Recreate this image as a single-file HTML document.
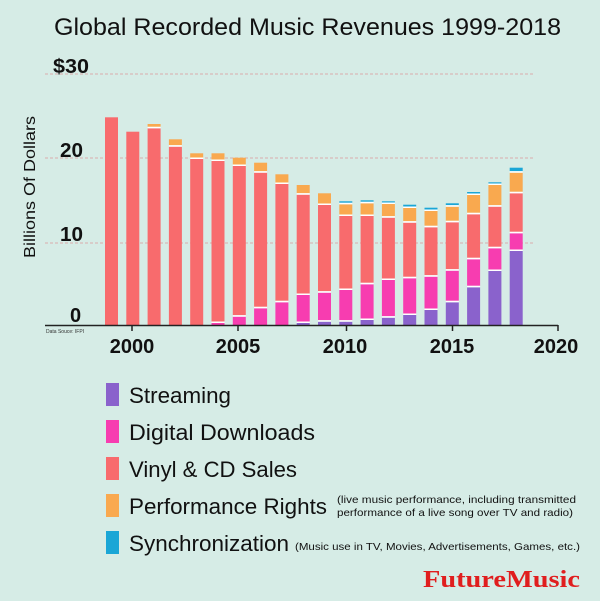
<!DOCTYPE html>
<html><head><meta charset="utf-8"><style>
html,body{margin:0;padding:0;background:#d6ece6;}
svg{display:block;font-family:"Liberation Sans",sans-serif;}
</style></head><body>
<svg width="600" height="601" viewBox="0 0 600 601" xmlns="http://www.w3.org/2000/svg">
<rect width="600" height="601" fill="#d6ece6"/>
<text x="54" y="35" font-size="24" fill="#111" textLength="507" lengthAdjust="spacingAndGlyphs">Global Recorded Music Revenues 1999-2018</text>
<g stroke="#d9b8b8" stroke-width="1.2" stroke-dasharray="3,2">
<line x1="45" y1="74" x2="535" y2="74"/>
<line x1="45" y1="158" x2="535" y2="158"/>
<line x1="45" y1="243" x2="535" y2="243"/>
</g>
<g font-weight="bold" font-size="20" fill="#111">
<text x="53" y="73" textLength="36" lengthAdjust="spacingAndGlyphs">$30</text>
<text x="60" y="157" textLength="23" lengthAdjust="spacingAndGlyphs">20</text>
<text x="60" y="241" textLength="23" lengthAdjust="spacingAndGlyphs">10</text>
<text x="70" y="322">0</text>
</g>
<text transform="translate(35,258) rotate(-90)" font-size="16" fill="#111" textLength="142" lengthAdjust="spacingAndGlyphs">Billions Of Dollars</text>
<g id="bars"></g>
<line x1="45" y1="325.5" x2="558" y2="325.5" stroke="#222" stroke-width="1.5"/>
<g stroke="#222" stroke-width="1.5">
<line x1="132" y1="325" x2="132" y2="331"/><line x1="238" y1="325" x2="238" y2="331"/>
<line x1="346.5" y1="325" x2="346.5" y2="331"/><line x1="452.5" y1="325" x2="452.5" y2="331"/>
<line x1="558" y1="325" x2="558" y2="331"/>
</g>
<text x="46" y="333" font-size="5" fill="#333">Data Souce: IFPI</text>
<g font-weight="bold" font-size="20" fill="#111" text-anchor="middle">
<text x="132" y="353">2000</text><text x="238" y="353">2005</text><text x="345" y="353">2010</text>
<text x="452" y="353">2015</text><text x="556" y="353">2020</text>
</g>
<g>
<rect x="106" y="383" width="13" height="23" fill="#8a62cc"/>
<rect x="106" y="420" width="13" height="23" fill="#f73db0"/>
<rect x="106" y="457" width="13" height="23" fill="#f86b6d"/>
<rect x="106" y="494" width="13" height="23" fill="#f9a94f"/>
<rect x="106" y="531" width="13" height="23" fill="#1aa6d6"/>
</g>
<g font-size="22" fill="#111">
<text x="129" y="403" textLength="102" lengthAdjust="spacingAndGlyphs">Streaming</text>
<text x="129" y="440" textLength="186" lengthAdjust="spacingAndGlyphs">Digital Downloads</text>
<text x="129" y="477" textLength="168" lengthAdjust="spacingAndGlyphs">Vinyl &amp; CD Sales</text>
<text x="129" y="514" textLength="198" lengthAdjust="spacingAndGlyphs">Performance Rights</text>
<text x="129" y="551" textLength="160" lengthAdjust="spacingAndGlyphs">Synchronization</text>
</g>
<g font-size="10.5" fill="#111">
<text x="337" y="503" textLength="239" lengthAdjust="spacingAndGlyphs">(live music performance, including transmitted</text>
<text x="337" y="516" textLength="236" lengthAdjust="spacingAndGlyphs">performance of a live song over TV and radio)</text>
<text x="295" y="550" textLength="285" lengthAdjust="spacingAndGlyphs">(Music use in TV, Movies, Advertisements, Games, etc.)</text>
</g>
<text x="423" y="587" font-family="Liberation Serif,serif" font-weight="bold" font-size="24" fill="#e01e1e" textLength="157" lengthAdjust="spacingAndGlyphs">FutureMusic</text>
<script>
var d=[
[326,326,117.3,117.3,117.3],[326,326,131.7,131.7,131.7],[326,326,128.3,124,124],
[326,326,146.7,139.3,139.3],[326,326,159,153.3,153.3],[326,323,161,153.3,153.3],
[326,316.7,166,157.7,157.7],[326,308.3,172.7,162.7,162.7],[326,302.3,184,174.3,174.3],
[323,295,194.7,185,185],[321.7,292.7,205,193.3,193.3],[321.7,290,216,204.3,201.3],
[320,284.3,216,203.3,200.3],[317.7,280,217.7,204,201.3],[315,278.3,222.7,208,204.7],
[310,276.7,227.3,211,207.7],[302.3,270.7,222.3,206.7,203.3],[287.3,259.3,214.3,195,192],
[271,248.3,206.7,185,182.3],[251,233.3,193.3,172.7,167.7]];
var cols=["#8a62cc","#f73db0","#f86b6d","#f9a94f","#1aa6d6"];
var g=document.getElementById("bars"),ns="http://www.w3.org/2000/svg";
function R(x,y,w,h,f){var rc=document.createElementNS(ns,"rect");rc.setAttribute("x",x.toFixed(1));rc.setAttribute("y",y.toFixed(1));rc.setAttribute("width",w);rc.setAttribute("height",h.toFixed(1));rc.setAttribute("fill",f);g.appendChild(rc);}
d.forEach(function(r,i){
 var x=105+21.3*i, bottom=326;
 for(var k=0;k<5;k++){
  var top=r[k], h=bottom-top;
  if(h>0.8){
   var sep=(bottom<326)?1.5:0;
   R(x,top,13,Math.max(h-sep,0.8),cols[k]);
   if(sep)R(x,bottom-1.5,13,1.5,"#ffffff");
   bottom=top;
  }
 }
});
</script>
</svg>
</body></html>
